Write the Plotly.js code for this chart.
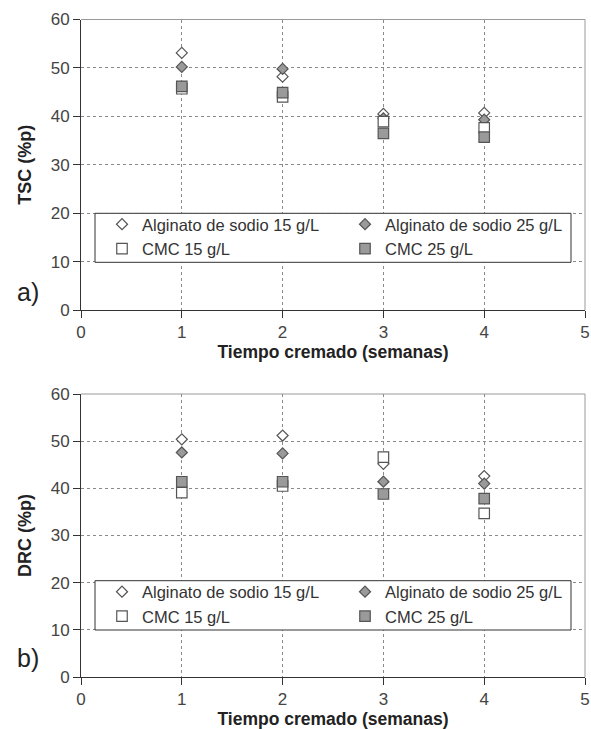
<!DOCTYPE html>
<html>
<head>
<meta charset="utf-8">
<script src="https://cdn.plot.ly/plotly-3.0.1.min.js"></script>
<style>html,body{margin:0;padding:0;background:#fff;}#chart{width:591px;height:729px;}</style>
</head>
<body>
<div id="chart"></div>
<script>
// ---- data ----
const weeks = [1, 2, 3, 4];
const seriesNames = ["Alginato de sodio 15 g/L", "Alginato de sodio 25 g/L", "CMC 15 g/L", "CMC 25 g/L"];
// a) TSC (%p)
const tscAlg15 = [53.1, 48.2, 40.5, 40.7];
const tscAlg25 = [50.2, 49.8, 39.6, 39.3];
const tscCmc15 = [45.7, 44.0, 38.9, 37.6];
const tscCmc25 = [46.2, 44.9, 36.5, 35.7];
// b) DRC (%p)
const drcAlg15 = [50.4, 51.2, 45.2, 42.6];
const drcAlg25 = [47.6, 47.4, 41.4, 41.0];
const drcCmc15 = [39.1, 40.5, 46.6, 34.7];
const drcCmc25 = [41.4, 41.4, 38.8, 37.8];
const xTicks = [0, 1, 2, 3, 4, 5];
const yTicks = [0, 10, 20, 30, 40, 50, 60];

// ---- styles ----
const edge = "#555555";
const grayFill = "#9a9a9a";
const styles = [
  {symbol: "diamond", size: 8.5, color: "#ffffff"},
  {symbol: "diamond", size: 8.5, color: grayFill},
  {symbol: "square", size: 10.5, color: "#ffffff"},
  {symbol: "square", size: 10.5, color: grayFill}
];

function mk(ys, i, xa, ya, leg) {
  return {
    type: "scatter", mode: "markers", x: weeks, y: ys, name: seriesNames[i],
    xaxis: xa, yaxis: ya, legend: leg, hoverinfo: "skip",
    marker: {symbol: styles[i].symbol, size: styles[i].size, color: styles[i].color,
             line: {color: edge, width: 1.2}}
  };
}

const data = [
  mk(tscAlg15, 0, "x", "y", "legend"),
  mk(tscAlg25, 1, "x", "y", "legend"),
  mk(tscCmc15, 2, "x", "y", "legend"),
  mk(tscCmc25, 3, "x", "y", "legend"),
  mk(drcAlg15, 0, "x2", "y2", "legend2"),
  mk(drcAlg25, 1, "x2", "y2", "legend2"),
  mk(drcCmc15, 2, "x2", "y2", "legend2"),
  mk(drcCmc25, 3, "x2", "y2", "legend2")
];

const W = 591, H = 729;
const px = v => v / W;
const py = v => (H - v) / H;

const font = "Arial, 'Liberation Sans', sans-serif";
const tickFont = {family: font, size: 17, color: "#444"};
const titleFont = {family: font, size: 17.5, color: "#222", weight: "bold"};

function xax(domain, anchor) {
  return {
    domain: domain, anchor: anchor, range: [0, 5], tickvals: xTicks, ticktext: xTicks.map(String),
    showgrid: true, gridcolor: "#8a8a8a", griddash: "3px,3px", gridwidth: 1,
    showline: true, linecolor: "#333", linewidth: 1, zeroline: false,
    ticks: "outside", ticklen: 7, tickcolor: "#333", tickfont: tickFont,
    title: {text: "Tiempo cremado (semanas)", font: titleFont, standoff: 2}
  };
}
function yax(domain, anchor, title) {
  return {
    domain: domain, anchor: anchor, range: [0, 60], tickvals: yTicks, ticktext: yTicks.map(String),
    showgrid: true, gridcolor: "#8a8a8a", griddash: "3px,3px", gridwidth: 1,
    showline: true, linecolor: "#333", linewidth: 1, zeroline: false,
    ticks: "outside", ticklen: 7, tickcolor: "#333", tickfont: tickFont,
    title: {text: title, font: {family: font, size: 18, color: "#222", weight: "bold"}, standoff: 14}
  };
}

const xd = [px(81), px(585)];
const y1d = [py(310), py(19.5)];
const y2d = [py(677), py(394)];

function legendAt(top) {
  return {
    x: px(102), y: py(top), xanchor: "left", yanchor: "top",
    orientation: "h", entrywidth: 198, entrywidthmode: "pixels",
    bgcolor: "rgba(0,0,0,0)", borderwidth: 0,
    font: {family: font, size: 16.5, color: "#333"}, traceorder: "normal"
  };
}

function box(x0, y0, x1, y1) {
  return {type: "rect", xref: "paper", yref: "paper", x0: px(x0), x1: px(x1), y0: py(y0), y1: py(y1),
          line: {color: "#333", width: 1}, fillcolor: "#ffffff", layer: "above"};
}
function border(x0, y0, x1, y1) {
  return {type: "line", xref: "paper", yref: "paper", x0: px(x0), x1: px(x1), y0: py(y0), y1: py(y1),
          line: {color: "#999", width: 1}, layer: "above"};
}

const layout = {
  width: W, height: H, margin: {l: 0, r: 0, t: 0, b: 0},
  paper_bgcolor: "#ffffff", plot_bgcolor: "#ffffff", showlegend: true,
  xaxis: xax(xd, "y"), yaxis: yax(y1d, "x", "TSC (%p)"),
  xaxis2: xax(xd, "y2"), yaxis2: yax(y2d, "x2", "DRC (%p)"),
  legend: legendAt(207),
  legend2: legendAt(574.5),
  shapes: [
    box(95, 213.3, 571, 262.3),
    box(95, 580.7, 571, 630),
    border(81, 19.5, 585, 19.5), border(585, 19.5, 585, 310),
    border(81, 394, 585, 394), border(585, 394, 585, 677)
  ],
  annotations: [
    {text: "a)", xref: "paper", yref: "paper", x: px(28), y: py(292), showarrow: false,
     font: {family: font, size: 25, color: "#222"}, xanchor: "center", yanchor: "middle"},
    {text: "b)", xref: "paper", yref: "paper", x: px(28), y: py(658), showarrow: false,
     font: {family: font, size: 25, color: "#222"}, xanchor: "center", yanchor: "middle"}
  ]
};

Plotly.newPlot("chart", data, layout, {staticPlot: true, displayModeBar: false});
</script>
</body>
</html>
